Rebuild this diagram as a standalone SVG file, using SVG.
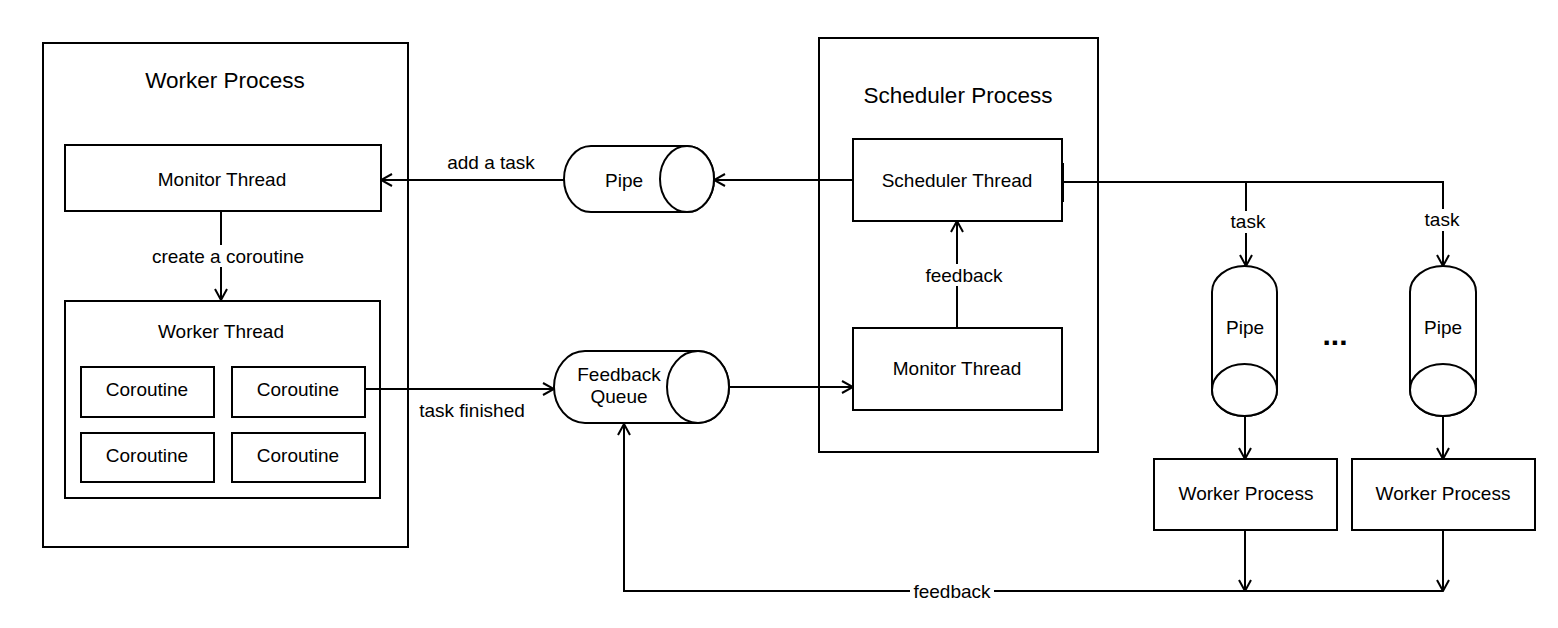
<svg xmlns="http://www.w3.org/2000/svg" width="1558" height="628" viewBox="0 0 1558 628">
<style>
.box{fill:#fff;stroke:#000;stroke-width:2}
.t{font-family:"Liberation Sans",Arial,sans-serif;font-size:19px;fill:#000;text-anchor:middle;dominant-baseline:central}
.title{font-size:22.5px}
.e{fill:none;stroke:#000;stroke-width:2}
.lbg{fill:#fff}
</style>
<defs>
<marker id="a" viewBox="0 0 14 14" refX="13" refY="7" markerWidth="14" markerHeight="14" markerUnits="userSpaceOnUse" orient="auto">
<path d="M2,1 L13,7 L2,13" fill="none" stroke="#000" stroke-width="2"/>
</marker>
</defs>
<rect width="1558" height="628" fill="#fff"/>

<g id="worker-process">
<rect class="box" x="43" y="43" width="365" height="504"/>
<text class="t title" x="225" y="80">Worker Process</text>
</g>
<g id="monitor-thread-w">
<rect class="box" x="65" y="145" width="316" height="66"/>
<text class="t" x="222" y="179">Monitor Thread</text>
</g>
<g id="worker-thread">
<rect class="box" x="65" y="301" width="315" height="197"/>
<text class="t" x="221" y="331">Worker Thread</text>
</g>
<g id="coroutine1"><rect class="box" x="81" y="367" width="133" height="50"/><text class="t" x="147" y="389">Coroutine</text></g>
<g id="coroutine2"><rect class="box" x="232" y="367" width="133" height="50"/><text class="t" x="298" y="389">Coroutine</text></g>
<g id="coroutine3"><rect class="box" x="81" y="433" width="133" height="49"/><text class="t" x="147" y="455">Coroutine</text></g>
<g id="coroutine4"><rect class="box" x="232" y="433" width="133" height="49"/><text class="t" x="298" y="455">Coroutine</text></g>

<g id="scheduler-process">
<rect class="box" x="819" y="38" width="279" height="414"/>
<text class="t title" x="958" y="95">Scheduler Process</text>
</g>
<g id="scheduler-thread">
<rect class="box" x="853" y="139" width="209" height="82"/>
<text class="t" x="957" y="180">Scheduler Thread</text>
</g>
<g id="monitor-thread-s">
<rect class="box" x="853" y="328" width="209" height="82"/>
<text class="t" x="957" y="368">Monitor Thread</text>
</g>

<g id="pipe-h">
<path class="box" d="M591,146 H687 A27,33 0 0 1 687,212 H591 A27,33 0 0 1 591,146 Z"/>
<ellipse class="box" cx="687" cy="179" rx="27" ry="33"/>
<text class="t" x="624" y="180">Pipe</text>
</g>
<g id="feedback-queue">
<path class="box" d="M585,351 H698 A31,36 0 0 1 698,423 H585 A31,36 0 0 1 585,351 Z"/>
<ellipse class="box" cx="698" cy="387" rx="31" ry="36"/>
<text class="t" x="619" y="374">Feedback</text>
<text class="t" x="619" y="396">Queue</text>
</g>
<g id="pipe-v1">
<path class="box" d="M1212,292 A32.5,26 0 0 1 1277,292 V390 A32.5,26 0 0 1 1212,390 Z"/>
<ellipse class="box" cx="1244.5" cy="390" rx="32.5" ry="26"/>
<text class="t" x="1245" y="327">Pipe</text>
</g>
<g id="pipe-v2">
<path class="box" d="M1410,292 A33,26 0 0 1 1476,292 V390 A33,26 0 0 1 1410,390 Z"/>
<ellipse class="box" cx="1443" cy="390" rx="33" ry="26"/>
<text class="t" x="1443" y="327">Pipe</text>
</g>
<g id="ellipsis">
<text class="t" x="1335" y="334" style="font-size:30px;font-weight:bold">...</text>
</g>
<g id="worker-process-1">
<rect class="box" x="1154" y="459" width="183" height="71"/>
<text class="t" x="1246" y="493">Worker Process</text>
</g>
<g id="worker-process-2">
<rect class="box" x="1352" y="459" width="183" height="71"/>
<text class="t" x="1443" y="493">Worker Process</text>
</g>

<g id="connectors">
<path class="e" d="M564,180 H381" marker-end="url(#a)"/>
<text class="t" x="491" y="162">add a task</text>
<path class="e" d="M853,180 H714" marker-end="url(#a)"/>
<path class="e" d="M221,211 V300" marker-end="url(#a)"/>
<rect class="lbg" x="143" y="245" width="170" height="22"/>
<text class="t" x="228" y="256">create a coroutine</text>
<path class="e" d="M365,389 H554" marker-end="url(#a)"/>
<text class="t" x="472" y="410">task finished</text>
<path class="e" d="M729,387 H853" marker-end="url(#a)"/>
<path class="e" d="M957,328 V221" marker-end="url(#a)"/>
<rect class="lbg" x="920" y="264" width="90" height="22"/>
<text class="t" x="964" y="275">feedback</text>
<path class="e" d="M1063,163 V202"/>
<path class="e" d="M1063,182 H1443 V266" marker-end="url(#a)"/>
<path class="e" d="M1246,182 V266" marker-end="url(#a)"/>
<rect class="lbg" x="1225" y="211" width="44" height="22"/>
<text class="t" x="1248" y="221">task</text>
<rect class="lbg" x="1421" y="209" width="44" height="22"/>
<text class="t" x="1442" y="219">task</text>
<path class="e" d="M1245,416 V459" marker-end="url(#a)"/>
<path class="e" d="M1443,416 V459" marker-end="url(#a)"/>
<path class="e" d="M1245,530 V591" marker-end="url(#a)"/>
<path class="e" d="M1443,530 V591" marker-end="url(#a)"/>
<path class="e" d="M1443,591 H624 V424" marker-end="url(#a)"/>
<rect class="lbg" x="910" y="580" width="84" height="22"/>
<text class="t" x="952" y="591">feedback</text>
</g>
</svg>
